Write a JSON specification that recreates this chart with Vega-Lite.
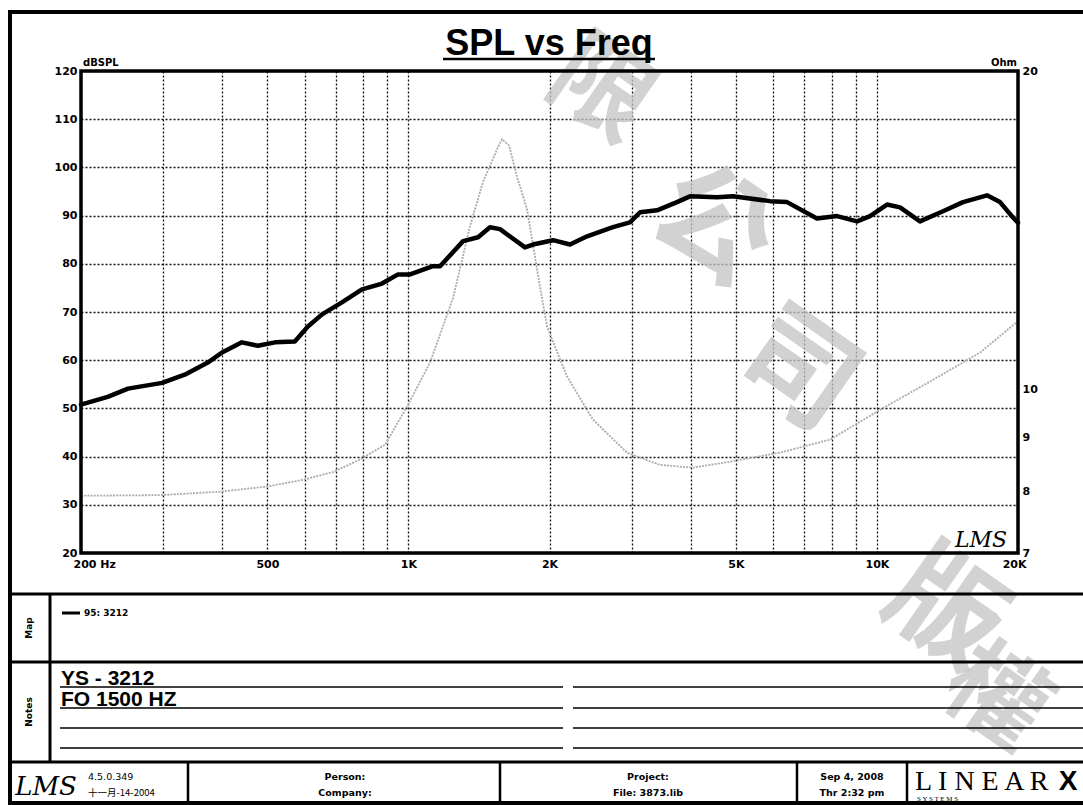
{
  "$schema": "https://vega.github.io/schema/vega-lite/v6.json",
  "width": 1083,
  "height": 805,
  "padding": 0,
  "autosize": {"type": "none"},
  "background": "white",
  "config": {"view": {"stroke": null}},
  "datasets": {
    "spl": [
      {"f": 200, "spl": 50.8}, {"f": 228, "spl": 52.4}, {"f": 252, "spl": 54.1}, {"f": 298, "spl": 55.3},
      {"f": 333, "spl": 57.0}, {"f": 373, "spl": 59.5}, {"f": 400, "spl": 61.6}, {"f": 441, "spl": 63.7},
      {"f": 477, "spl": 63.0}, {"f": 519, "spl": 63.7}, {"f": 572, "spl": 63.9}, {"f": 610, "spl": 67.0},
      {"f": 654, "spl": 69.5}, {"f": 721, "spl": 72.0}, {"f": 796, "spl": 74.7}, {"f": 878, "spl": 75.9},
      {"f": 950, "spl": 77.8}, {"f": 1008, "spl": 77.8}, {"f": 1128, "spl": 79.5}, {"f": 1168, "spl": 79.5},
      {"f": 1308, "spl": 84.7}, {"f": 1408, "spl": 85.5}, {"f": 1493, "spl": 87.6}, {"f": 1568, "spl": 87.2},
      {"f": 1773, "spl": 83.4}, {"f": 1844, "spl": 84.0}, {"f": 2035, "spl": 84.9}, {"f": 2212, "spl": 84.0},
      {"f": 2406, "spl": 85.7}, {"f": 2732, "spl": 87.6}, {"f": 2970, "spl": 88.6}, {"f": 3122, "spl": 90.7},
      {"f": 3393, "spl": 91.1}, {"f": 3742, "spl": 92.8}, {"f": 3990, "spl": 94.0}, {"f": 4556, "spl": 93.8},
      {"f": 4929, "spl": 94.0}, {"f": 5910, "spl": 93.0}, {"f": 6428, "spl": 92.8}, {"f": 7447, "spl": 89.4},
      {"f": 8218, "spl": 89.9}, {"f": 9068, "spl": 88.8}, {"f": 9664, "spl": 89.9}, {"f": 10508, "spl": 92.3},
      {"f": 11200, "spl": 91.7}, {"f": 12354, "spl": 88.8}, {"f": 13834, "spl": 90.9}, {"f": 15264, "spl": 92.8},
      {"f": 17174, "spl": 94.2}, {"f": 18308, "spl": 92.8}, {"f": 19514, "spl": 89.6}, {"f": 20000, "spl": 88.5}
    ],
    "imp": [
      {"f": 200, "z": 7.93}, {"f": 295, "z": 7.94}, {"f": 396, "z": 8.0}, {"f": 499, "z": 8.09},
      {"f": 596, "z": 8.21}, {"f": 690, "z": 8.35}, {"f": 788, "z": 8.58}, {"f": 891, "z": 8.86},
      {"f": 993, "z": 9.63}, {"f": 1112, "z": 10.6}, {"f": 1245, "z": 12.2}, {"f": 1353, "z": 14.26},
      {"f": 1442, "z": 15.7}, {"f": 1546, "z": 16.87}, {"f": 1584, "z": 17.24}, {"f": 1640, "z": 17.0},
      {"f": 1704, "z": 15.9}, {"f": 1791, "z": 14.8}, {"f": 1909, "z": 12.5}, {"f": 1976, "z": 11.46},
      {"f": 2180, "z": 10.28}, {"f": 2476, "z": 9.36}, {"f": 2927, "z": 8.71}, {"f": 3443, "z": 8.48},
      {"f": 4050, "z": 8.43}, {"f": 4856, "z": 8.54}, {"f": 6209, "z": 8.71}, {"f": 7938, "z": 8.96},
      {"f": 10150, "z": 9.56}, {"f": 12980, "z": 10.17}, {"f": 16594, "z": 10.83}, {"f": 20000, "z": 11.6}
    ]
  },
  "layer": [
    {
      "data": {"values": [{}]},
      "layer": [
        {"mark": {"type": "text", "text": "限", "font": "Noto Sans CJK TC", "fontWeight": "bold", "fontSize": 100, "angle": 35, "align": "center", "baseline": "middle", "color": "#c4c4c4", "opacity": 0.75},
         "encoding": {"x": {"datum": 600, "type": "quantitative", "scale": {"domain": [0, 1083], "nice": false, "zero": false}, "axis": null}, "y": {"datum": 92, "type": "quantitative", "scale": {"domain": [0, 805], "nice": false, "zero": false, "reverse": true}, "axis": null}}},
        {"mark": {"type": "text", "text": "公", "font": "Noto Sans CJK TC", "fontWeight": "bold", "fontSize": 115, "angle": 35, "align": "center", "baseline": "middle", "color": "#c4c4c4", "opacity": 0.75},
         "encoding": {"x": {"datum": 712, "axis": null}, "y": {"datum": 228, "axis": null}}},
        {"mark": {"type": "text", "text": "司", "font": "Noto Sans CJK TC", "fontWeight": "bold", "fontSize": 115, "angle": 35, "align": "center", "baseline": "middle", "color": "#c4c4c4", "opacity": 0.75},
         "encoding": {"x": {"datum": 797, "axis": null}, "y": {"datum": 372, "axis": null}}},
        {"mark": {"type": "text", "text": "版", "font": "Noto Sans CJK TC", "fontWeight": "bold", "fontSize": 115, "angle": 35, "align": "center", "baseline": "middle", "color": "#c4c4c4", "opacity": 0.75},
         "encoding": {"x": {"datum": 945, "axis": null}, "y": {"datum": 612, "axis": null}}},
        {"mark": {"type": "text", "text": "權", "font": "Noto Sans CJK TC", "fontWeight": "bold", "fontSize": 100, "angle": 35, "align": "center", "baseline": "middle", "color": "#c4c4c4", "opacity": 0.75},
         "encoding": {"x": {"datum": 995, "axis": null}, "y": {"datum": 700, "axis": null}}},

        {"mark": {"type": "rect", "fillOpacity": 0, "stroke": "#000", "strokeWidth": 4},
         "encoding": {"x": {"datum": 10, "axis": null}, "x2": {"datum": 1100}, "y": {"datum": 12, "axis": null}, "y2": {"datum": 803}}},
        {"mark": {"type": "rule", "stroke": "#000", "strokeWidth": 3},
         "encoding": {"x": {"datum": 10, "axis": null}, "x2": {"datum": 1100}, "y": {"datum": 594, "axis": null}, "y2": {"datum": 594}}},
        {"mark": {"type": "rule", "stroke": "#000", "strokeWidth": 3},
         "encoding": {"x": {"datum": 10, "axis": null}, "x2": {"datum": 1100}, "y": {"datum": 662, "axis": null}, "y2": {"datum": 662}}},
        {"mark": {"type": "rule", "stroke": "#000", "strokeWidth": 3},
         "encoding": {"x": {"datum": 10, "axis": null}, "x2": {"datum": 1100}, "y": {"datum": 762, "axis": null}, "y2": {"datum": 762}}},
        {"mark": {"type": "rule", "stroke": "#000", "strokeWidth": 3},
         "encoding": {"x": {"datum": 50, "axis": null}, "x2": {"datum": 50}, "y": {"datum": 594, "axis": null}, "y2": {"datum": 762}}},
        {"mark": {"type": "rule", "stroke": "#000", "strokeWidth": 1.5},
         "encoding": {"x": {"datum": 60, "axis": null}, "x2": {"datum": 563}, "y": {"datum": 687, "axis": null}, "y2": {"datum": 687}}},
        {"mark": {"type": "rule", "stroke": "#000", "strokeWidth": 1.5},
         "encoding": {"x": {"datum": 573, "axis": null}, "x2": {"datum": 1100}, "y": {"datum": 687, "axis": null}, "y2": {"datum": 687}}},
        {"mark": {"type": "rule", "stroke": "#000", "strokeWidth": 1.5},
         "encoding": {"x": {"datum": 60, "axis": null}, "x2": {"datum": 563}, "y": {"datum": 708, "axis": null}, "y2": {"datum": 708}}},
        {"mark": {"type": "rule", "stroke": "#000", "strokeWidth": 1.5},
         "encoding": {"x": {"datum": 573, "axis": null}, "x2": {"datum": 1100}, "y": {"datum": 708, "axis": null}, "y2": {"datum": 708}}},
        {"mark": {"type": "rule", "stroke": "#000", "strokeWidth": 1.5},
         "encoding": {"x": {"datum": 60, "axis": null}, "x2": {"datum": 563}, "y": {"datum": 728, "axis": null}, "y2": {"datum": 728}}},
        {"mark": {"type": "rule", "stroke": "#000", "strokeWidth": 1.5},
         "encoding": {"x": {"datum": 573, "axis": null}, "x2": {"datum": 1100}, "y": {"datum": 728, "axis": null}, "y2": {"datum": 728}}},
        {"mark": {"type": "rule", "stroke": "#000", "strokeWidth": 1.5},
         "encoding": {"x": {"datum": 60, "axis": null}, "x2": {"datum": 563}, "y": {"datum": 748, "axis": null}, "y2": {"datum": 748}}},
        {"mark": {"type": "rule", "stroke": "#000", "strokeWidth": 1.5},
         "encoding": {"x": {"datum": 573, "axis": null}, "x2": {"datum": 1100}, "y": {"datum": 748, "axis": null}, "y2": {"datum": 748}}},
        {"mark": {"type": "rule", "stroke": "#000", "strokeWidth": 2.5},
         "encoding": {"x": {"datum": 188, "axis": null}, "x2": {"datum": 188}, "y": {"datum": 762, "axis": null}, "y2": {"datum": 803}}},
        {"mark": {"type": "rule", "stroke": "#000", "strokeWidth": 2.5},
         "encoding": {"x": {"datum": 500, "axis": null}, "x2": {"datum": 500}, "y": {"datum": 762, "axis": null}, "y2": {"datum": 803}}},
        {"mark": {"type": "rule", "stroke": "#000", "strokeWidth": 2.5},
         "encoding": {"x": {"datum": 797, "axis": null}, "x2": {"datum": 797}, "y": {"datum": 762, "axis": null}, "y2": {"datum": 803}}},
        {"mark": {"type": "rule", "stroke": "#000", "strokeWidth": 2.5},
         "encoding": {"x": {"datum": 907, "axis": null}, "x2": {"datum": 907}, "y": {"datum": 762, "axis": null}, "y2": {"datum": 803}}},
        {"mark": {"type": "rule", "stroke": "#000", "strokeWidth": 3},
         "encoding": {"x": {"datum": 62, "axis": null}, "x2": {"datum": 80}, "y": {"datum": 613, "axis": null}, "y2": {"datum": 613}}},
        {"mark": {"type": "rule", "stroke": "#000", "strokeWidth": 2.5},
         "encoding": {"x": {"datum": 443, "axis": null}, "x2": {"datum": 655}, "y": {"datum": 59, "axis": null}, "y2": {"datum": 59}}},

        {"mark": {"type": "text", "text": "SPL vs Freq", "font": "Liberation Sans", "fontWeight": "bold", "fontSize": 36, "align": "center", "baseline": "alphabetic", "color": "#000"},
         "encoding": {"x": {"datum": 549, "axis": null}, "y": {"datum": 55, "axis": null}}},
        {"mark": {"type": "text", "text": "dBSPL", "font": "DejaVu Sans", "fontWeight": "bold", "fontSize": 10, "align": "left", "baseline": "alphabetic", "color": "#000"},
         "encoding": {"x": {"datum": 83, "axis": null}, "y": {"datum": 66, "axis": null}}},
        {"mark": {"type": "text", "text": "Ohm", "font": "DejaVu Sans", "fontWeight": "bold", "fontSize": 10, "align": "right", "baseline": "alphabetic", "color": "#000"},
         "encoding": {"x": {"datum": 1017, "axis": null}, "y": {"datum": 66, "axis": null}}},
        {"mark": {"type": "text", "text": "LMS", "font": "DejaVu Serif", "fontStyle": "italic", "fontSize": 22, "align": "center", "baseline": "alphabetic", "color": "#000"},
         "encoding": {"x": {"datum": 981, "axis": null}, "y": {"datum": 547, "axis": null}}},
        {"mark": {"type": "text", "text": "Map", "font": "DejaVu Sans", "fontWeight": "bold", "fontSize": 9, "angle": 270, "align": "center", "baseline": "middle", "color": "#000"},
         "encoding": {"x": {"datum": 29, "axis": null}, "y": {"datum": 628, "axis": null}}},
        {"mark": {"type": "text", "text": "Notes", "font": "DejaVu Sans", "fontWeight": "bold", "fontSize": 9, "angle": 270, "align": "center", "baseline": "middle", "color": "#000"},
         "encoding": {"x": {"datum": 29, "axis": null}, "y": {"datum": 712, "axis": null}}},
        {"mark": {"type": "text", "text": "95: 3212", "font": "DejaVu Sans", "fontWeight": "bold", "fontSize": 9, "align": "left", "baseline": "middle", "color": "#000"},
         "encoding": {"x": {"datum": 84, "axis": null}, "y": {"datum": 613, "axis": null}}},
        {"mark": {"type": "text", "text": "YS - 3212", "font": "Liberation Sans", "fontWeight": "bold", "fontSize": 21, "align": "left", "baseline": "alphabetic", "color": "#000"},
         "encoding": {"x": {"datum": 61, "axis": null}, "y": {"datum": 685, "axis": null}}},
        {"mark": {"type": "text", "text": "FO 1500 HZ", "font": "Liberation Sans", "fontWeight": "bold", "fontSize": 21, "align": "left", "baseline": "alphabetic", "color": "#000"},
         "encoding": {"x": {"datum": 61, "axis": null}, "y": {"datum": 706, "axis": null}}},
        {"mark": {"type": "text", "text": "LMS", "font": "DejaVu Serif", "fontStyle": "italic", "fontSize": 26, "align": "center", "baseline": "alphabetic", "color": "#000"},
         "encoding": {"x": {"datum": 46, "axis": null}, "y": {"datum": 795, "axis": null}}},
        {"mark": {"type": "text", "text": "4.5.0.349", "font": "DejaVu Sans", "fontSize": 9.5, "align": "left", "baseline": "middle", "color": "#000"},
         "encoding": {"x": {"datum": 88, "axis": null}, "y": {"datum": 777, "axis": null}}},
        {"mark": {"type": "text", "text": "十一月-14-2004", "font": "Noto Sans CJK TC", "fontSize": 9.5, "align": "left", "baseline": "middle", "color": "#000"},
         "encoding": {"x": {"datum": 88, "axis": null}, "y": {"datum": 793, "axis": null}}},
        {"mark": {"type": "text", "text": "Person:", "font": "DejaVu Sans", "fontWeight": "bold", "fontSize": 9.5, "align": "center", "baseline": "middle", "color": "#000"},
         "encoding": {"x": {"datum": 345, "axis": null}, "y": {"datum": 777, "axis": null}}},
        {"mark": {"type": "text", "text": "Company:", "font": "DejaVu Sans", "fontWeight": "bold", "fontSize": 9.5, "align": "center", "baseline": "middle", "color": "#000"},
         "encoding": {"x": {"datum": 345, "axis": null}, "y": {"datum": 793, "axis": null}}},
        {"mark": {"type": "text", "text": "Project:", "font": "DejaVu Sans", "fontWeight": "bold", "fontSize": 9.5, "align": "center", "baseline": "middle", "color": "#000"},
         "encoding": {"x": {"datum": 648, "axis": null}, "y": {"datum": 777, "axis": null}}},
        {"mark": {"type": "text", "text": "File: 3873.lib", "font": "DejaVu Sans", "fontWeight": "bold", "fontSize": 9.5, "align": "center", "baseline": "middle", "color": "#000"},
         "encoding": {"x": {"datum": 648, "axis": null}, "y": {"datum": 793, "axis": null}}},
        {"mark": {"type": "text", "text": "Sep 4, 2008", "font": "DejaVu Sans", "fontWeight": "bold", "fontSize": 9.5, "align": "center", "baseline": "middle", "color": "#000"},
         "encoding": {"x": {"datum": 852, "axis": null}, "y": {"datum": 777, "axis": null}}},
        {"mark": {"type": "text", "text": "Thr  2:32 pm", "font": "DejaVu Sans", "fontWeight": "bold", "fontSize": 9.5, "align": "center", "baseline": "middle", "color": "#000"},
         "encoding": {"x": {"datum": 852, "axis": null}, "y": {"datum": 793, "axis": null}}},
        {"mark": {"type": "text", "text": "L I N E A R", "font": "Liberation Serif", "fontSize": 28, "align": "left", "baseline": "alphabetic", "color": "#000"},
         "encoding": {"x": {"datum": 915, "axis": null}, "y": {"datum": 790, "axis": null}}},
        {"mark": {"type": "text", "text": "X", "font": "Liberation Sans", "fontWeight": "bold", "fontSize": 28, "align": "center", "baseline": "alphabetic", "color": "#000"},
         "encoding": {"x": {"datum": 1068, "axis": null}, "y": {"datum": 790, "axis": null}}},
        {"mark": {"type": "text", "text": "S    Y    S    T    E    M    S", "font": "Liberation Serif", "fontSize": 7, "align": "left", "baseline": "alphabetic", "color": "#000"},
         "encoding": {"x": {"datum": 917, "axis": null}, "y": {"datum": 801, "axis": null}}}
      ]
    },
    {
      "data": {"name": "imp"},
      "mark": {"type": "line", "color": "#ababab", "strokeWidth": 1.8, "strokeDash": [2, 1.2]},
      "encoding": {
        "x": {"field": "f", "type": "quantitative", "scale": {"type": "log", "domain": [200, 20000], "range": [81, 1018], "nice": false},
          "axis": {"orient": "top", "offset": 0, "values": [200, 300, 400, 500, 600, 700, 800, 900, 1000, 2000, 3000, 4000, 5000, 6000, 7000, 8000, 9000, 10000, 20000],
            "title": null, "labels": false, "grid": true, "gridColor": "#111", "gridDash": [2, 2], "gridWidth": 1.3, "domain": false, "ticks": false}},
        "y": {"field": "z", "type": "quantitative", "scale": {"type": "log", "domain": [7, 20], "range": [553, 71], "nice": false, "zero": false},
          "axis": {"orient": "right", "offset": -65, "values": [7, 8, 9, 10, 20], "format": "d", "title": null, "grid": false, "domain": false, "ticks": false, "labelPadding": 4, "labelFont": "DejaVu Sans", "labelFontWeight": "bold", "labelFontSize": 11, "labelColor": "#000"}}
      }
    },
    {
      "data": {"name": "spl"},
      "mark": {"type": "line", "color": "#000", "strokeWidth": 4.5, "strokeJoin": "round", "strokeCap": "round"},
      "encoding": {
        "x": {"field": "f", "type": "quantitative", "scale": {"type": "log", "domain": [200, 20000], "range": [81, 1018], "nice": false},
          "axis": {"orient": "bottom", "offset": -252, "values": [200, 500, 1000, 2000, 5000, 10000, 20000],
            "labelExpr": "datum.value == 200 ? '200  Hz' : datum.value == 500 ? '500' : datum.value == 1000 ? '1K' : datum.value == 2000 ? '2K' : datum.value == 5000 ? '5K' : datum.value == 10000 ? '10K' : '20K'",
            "title": null, "grid": false, "domain": false, "ticks": false, "labelOverlap": false,
            "labelFlush": true, "labelFlushOffset": 8, "labelPadding": 5, "labelFont": "DejaVu Sans", "labelFontWeight": "bold", "labelFontSize": 11, "labelColor": "#000"}},
        "y": {"field": "spl", "type": "quantitative", "scale": {"domain": [20, 120], "range": [553, 71], "nice": false, "zero": false},
          "axis": {"orient": "left", "offset": -81, "values": [20, 30, 40, 50, 60, 70, 80, 90, 100, 110, 120], "title": null, "grid": true, "gridColor": "#111", "gridDash": [2, 2], "gridWidth": 1.3,
            "domain": false, "ticks": false, "labelPadding": 4, "labelFont": "DejaVu Sans", "labelFontWeight": "bold", "labelFontSize": 11, "labelColor": "#000"}}
      }
    },
    {
      "data": {"values": [{}]},
      "mark": {"type": "rect", "fillOpacity": 0, "stroke": "#000", "strokeWidth": 3.5},
      "encoding": {
        "x": {"datum": 81, "type": "quantitative", "scale": {"domain": [0, 1083], "nice": false, "zero": false}, "axis": null},
        "x2": {"datum": 1018},
        "y": {"datum": 71, "type": "quantitative", "scale": {"domain": [0, 805], "nice": false, "zero": false, "reverse": true}, "axis": null},
        "y2": {"datum": 553}
      }
    }
  ],
  "resolve": {"scale": {"x": "independent", "y": "independent"}}
}
